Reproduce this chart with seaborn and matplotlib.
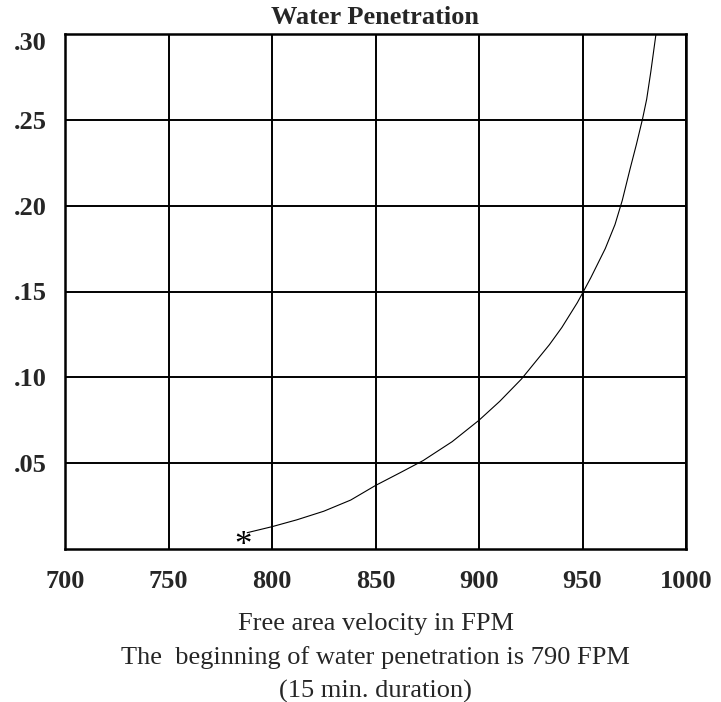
import matplotlib
matplotlib.use("Agg")
import matplotlib.pyplot as plt
import matplotlib.transforms as mtransforms
import seaborn as sns
import pandas as pd

# Data
velocity_fpm = [788, 800, 812, 825, 838, 850, 862, 873, 887, 900, 910, 920.5, 934, 940,
                947.5, 950, 954, 961, 965.7, 969.2, 973, 976, 979, 981, 983, 985.5]
penetration = [0.0095, 0.013, 0.017, 0.022, 0.0285, 0.037, 0.0445, 0.0515, 0.0625, 0.075, 0.086,
               0.099, 0.119, 0.129, 0.1435, 0.149, 0.158, 0.175, 0.189, 0.203, 0.2215, 0.2355,
               0.2505, 0.262, 0.278, 0.30]
start_x = [786]
start_y = [0.0064]
x_ticks = [700, 750, 800, 850, 900, 950, 1000]
y_ticks = [0.05, 0.10, 0.15, 0.20, 0.25, 0.30]
y_tick_labels = [".05", ".10", ".15", ".20", ".25", ".30"]

sns.set_style("white")
plt.rcParams['font.family'] = ['Liberation Serif', 'DejaVu Serif']

fig = plt.figure(figsize=(7.21, 7.02), dpi=100)
ax = fig.add_axes([65/721, 1-549/702, (686-65)/721, (549-34)/702])

df = pd.DataFrame({"v": velocity_fpm, "p": penetration})
sns.lineplot(data=df, x="v", y="p", sort=False, estimator=None, color="black", linewidth=0.8, ax=ax)

star_tr = mtransforms.offset_copy(ax.transData, fig=fig, x=0, y=-17, units="dots")
for sx, sy in zip(start_x, start_y):
    ax.text(sx, sy, "*", ha="center", va="baseline", fontsize=25, color="black",
            transform=star_tr)

ax.set_xlim(700, 1000)
ax.set_ylim(0, 0.30)
ax.set_xticks(x_ticks)
ax.set_xticklabels([str(t) for t in x_ticks], fontsize=19, fontweight="bold")
ax.set_yticks(y_ticks)
ax.set_yticklabels(y_tick_labels, fontsize=19, fontweight="bold")
ax.tick_params(axis="both", length=0)
ax.tick_params(axis="x", pad=15)
ax.tick_params(axis="y", pad=13)
ax.grid(True, color="black", linewidth=1.4)
for s in ax.spines.values():
    s.set_color("black")
    s.set_linewidth(1.8)
ax.set_xlabel("")
ax.set_ylabel("")

# the top ".30" label sits just below the top border
top_lab = ax.get_yticklabels()[-1]
top_lab.set_transform(top_lab.get_transform() +
                      mtransforms.ScaledTranslation(0, -7/100, fig.dpi_scale_trans))

ax.set_title("Water Penetration", fontsize=19, fontweight="bold", pad=7)

cx = (65 + 686) / 2 / 721
fig.text(cx, 1-624/702, "Free area velocity in FPM", ha="center", va="center", fontsize=19)
fig.text(cx, 1-658/702, "The  beginning of water penetration is 790 FPM", ha="center", va="center", fontsize=19)
fig.text(cx, 1-691/702, "(15 min. duration)", ha="center", va="center", fontsize=19)

fig.savefig("out.png", dpi=100)
